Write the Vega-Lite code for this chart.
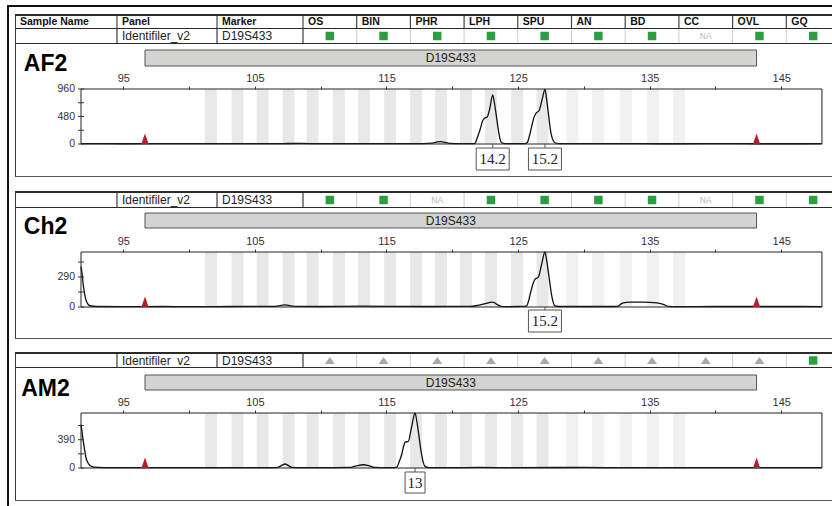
{
"$schema":"https://vega.github.io/schema/vega-lite/v6.json",
"background":"white",
"padding":{"left":7,"top":5,"right":0,"bottom":0},
"autosize":{"type":"pad"},
"config":{"view":{"stroke":null},"font":"Liberation Sans","text":{"font":"Liberation Sans"}},
"datasets":{
"hdr":[{"name":"Sample Name","x0":0},{"name":"Panel","x0":1.899},{"name":"Marker","x0":3.762},{"name":"OS","x0":5.363},{"name":"BIN","x0":6.363},{"name":"PHR","x0":7.363},{"name":"LPH","x0":8.363},{"name":"SPU","x0":9.363},{"name":"AN","x0":10.363},{"name":"BD","x0":11.363},{"name":"CC","x0":12.363},{"name":"OVL","x0":13.363},{"name":"GQ","x0":14.363}],
"info":[{"t":"Identifiler_v2","x0":1.899},{"t":"D19S433","x0":3.762},{"t":"","x0":5.363}],
"stAF2":[{"col":"OS","st":"ok","x0":5.363,"mid":5.863},{"col":"BIN","st":"ok","x0":6.363,"mid":6.863},{"col":"PHR","st":"ok","x0":7.363,"mid":7.863},{"col":"LPH","st":"ok","x0":8.363,"mid":8.863},{"col":"SPU","st":"ok","x0":9.363,"mid":9.863},{"col":"AN","st":"ok","x0":10.363,"mid":10.863},{"col":"BD","st":"ok","x0":11.363,"mid":11.863},{"col":"CC","st":"NA","x0":12.363,"mid":12.863},{"col":"OVL","st":"ok","x0":13.363,"mid":13.863},{"col":"GQ","st":"ok","x0":14.363,"mid":14.863}],
"stCh2":[{"col":"OS","st":"ok","x0":5.363,"mid":5.863},{"col":"BIN","st":"ok","x0":6.363,"mid":6.863},{"col":"PHR","st":"NA","x0":7.363,"mid":7.863},{"col":"LPH","st":"ok","x0":8.363,"mid":8.863},{"col":"SPU","st":"ok","x0":9.363,"mid":9.863},{"col":"AN","st":"ok","x0":10.363,"mid":10.863},{"col":"BD","st":"ok","x0":11.363,"mid":11.863},{"col":"CC","st":"NA","x0":12.363,"mid":12.863},{"col":"OVL","st":"ok","x0":13.363,"mid":13.863},{"col":"GQ","st":"ok","x0":14.363,"mid":14.863}],
"stAM2":[{"col":"OS","st":"warn","x0":5.363,"mid":5.863},{"col":"BIN","st":"warn","x0":6.363,"mid":6.863},{"col":"PHR","st":"warn","x0":7.363,"mid":7.863},{"col":"LPH","st":"warn","x0":8.363,"mid":8.863},{"col":"SPU","st":"warn","x0":9.363,"mid":9.863},{"col":"AN","st":"warn","x0":10.363,"mid":10.863},{"col":"BD","st":"warn","x0":11.363,"mid":11.863},{"col":"CC","st":"warn","x0":12.363,"mid":12.863},{"col":"OVL","st":"warn","x0":13.363,"mid":13.863},{"col":"GQ","st":"ok","x0":14.363,"mid":14.863}],
"mk":[{"marker":"D19S433","start":96.65,"end":143.12}],
"ends":[{"bp":96.65,"rfu":0},{"bp":143.12,"rfu":0}],
"ytAF2":[{"rfu":0,"lab":"0"},{"rfu":240,"lab":""},{"rfu":480,"lab":"480"},{"rfu":720,"lab":""},{"rfu":960,"lab":"960"}],
"ytCh2":[{"rfu":0,"lab":"0"},{"rfu":145,"lab":""},{"rfu":290,"lab":"290"},{"rfu":435,"lab":""}],
"ytAM2":[{"rfu":0,"lab":"0"},{"rfu":195,"lab":""},{"rfu":390,"lab":"390"},{"rfu":585,"lab":""}],
"stripes":[{"lo":101.21,"hi":102.11},{"lo":103.23,"hi":104.13},{"lo":105.13,"hi":106.03},{"lo":107.1,"hi":108.0},{"lo":108.93,"hi":109.83},{"lo":110.94,"hi":111.84},{"lo":112.84,"hi":113.74},{"lo":114.82,"hi":115.72},{"lo":116.79,"hi":117.69},{"lo":118.69,"hi":119.59},{"lo":120.59,"hi":121.49},{"lo":122.49,"hi":123.39},{"lo":124.47,"hi":125.37},{"lo":126.4,"hi":127.3},{"lo":128.68,"hi":129.58},{"lo":130.62,"hi":131.52},{"lo":132.75,"hi":133.65},{"lo":134.8,"hi":135.7},{"lo":136.78,"hi":137.68}],
"alAF2":[{"bp":123.07,"allele":"14.2"},{"bp":127.04,"allele":"15.2"}],
"alCh2":[{"bp":127.04,"allele":"15.2"}],
"alAM2":[{"bp":117.17,"allele":"13"}],
"trAF2":[{"bp":91.786,"rfu":5},{"bp":93,"rfu":6},{"bp":95,"rfu":4},{"bp":97,"rfu":6},{"bp":99,"rfu":5},{"bp":101,"rfu":7},{"bp":103,"rfu":5},{"bp":105,"rfu":6},{"bp":107,"rfu":8},{"bp":108.5,"rfu":10},{"bp":110,"rfu":6},{"bp":112,"rfu":5},{"bp":114,"rfu":7},{"bp":116,"rfu":6},{"bp":117.8,"rfu":8},{"bp":118.4,"rfu":14},{"bp":118.8,"rfu":32},{"bp":119.1,"rfu":42},{"bp":119.45,"rfu":30},{"bp":119.9,"rfu":10},{"bp":120.8,"rfu":6},{"bp":121.5,"rfu":7},{"bp":121.72,"rfu":12},{"bp":121.9,"rfu":110},{"bp":122.1,"rfu":244},{"bp":122.3,"rfu":400},{"bp":122.45,"rfu":448},{"bp":122.65,"rfu":470},{"bp":122.85,"rfu":620},{"bp":123.07,"rfu":855},{"bp":123.2,"rfu":720},{"bp":123.32,"rfu":535},{"bp":123.5,"rfu":244},{"bp":123.62,"rfu":90},{"bp":123.76,"rfu":22},{"bp":124.0,"rfu":8},{"bp":125.0,"rfu":6},{"bp":125.55,"rfu":8},{"bp":125.7,"rfu":25},{"bp":125.86,"rfu":140},{"bp":126.03,"rfu":302},{"bp":126.2,"rfu":460},{"bp":126.36,"rfu":535},{"bp":126.6,"rfu":585},{"bp":126.85,"rfu":800},{"bp":127.04,"rfu":955},{"bp":127.17,"rfu":780},{"bp":127.3,"rfu":535},{"bp":127.5,"rfu":186},{"bp":127.65,"rfu":70},{"bp":127.8,"rfu":22},{"bp":128.1,"rfu":8},{"bp":130,"rfu":5},{"bp":133,"rfu":6},{"bp":136,"rfu":4},{"bp":139,"rfu":6},{"bp":142,"rfu":5},{"bp":145,"rfu":4},{"bp":148.09,"rfu":5}],
"trCh2":[{"bp":91.786,"rfu":390},{"bp":91.85,"rfu":340},{"bp":91.96,"rfu":210},{"bp":92.07,"rfu":120},{"bp":92.17,"rfu":65},{"bp":92.3,"rfu":30},{"bp":92.47,"rfu":12},{"bp":93,"rfu":5},{"bp":95,"rfu":4},{"bp":98,"rfu":5},{"bp":100,"rfu":4},{"bp":103,"rfu":5},{"bp":106.5,"rfu":6},{"bp":107.3,"rfu":20},{"bp":108,"rfu":6},{"bp":110,"rfu":5},{"bp":113,"rfu":8},{"bp":115,"rfu":6},{"bp":118,"rfu":5},{"bp":120,"rfu":6},{"bp":121.35,"rfu":6},{"bp":121.8,"rfu":12},{"bp":122.18,"rfu":22},{"bp":122.6,"rfu":35},{"bp":122.99,"rfu":48},{"bp":123.2,"rfu":42},{"bp":123.4,"rfu":25},{"bp":123.65,"rfu":8},{"bp":123.88,"rfu":4},{"bp":125,"rfu":5},{"bp":125.5,"rfu":6},{"bp":125.65,"rfu":10},{"bp":125.8,"rfu":60},{"bp":125.96,"rfu":145},{"bp":126.12,"rfu":220},{"bp":126.28,"rfu":268},{"bp":126.54,"rfu":290},{"bp":126.8,"rfu":420},{"bp":127.04,"rfu":532},{"bp":127.17,"rfu":450},{"bp":127.3,"rfu":338},{"bp":127.55,"rfu":113},{"bp":127.68,"rfu":40},{"bp":127.8,"rfu":10},{"bp":128.1,"rfu":5},{"bp":130,"rfu":5},{"bp":132.3,"rfu":5},{"bp":132.61,"rfu":8},{"bp":132.8,"rfu":28},{"bp":132.99,"rfu":40},{"bp":133.5,"rfu":48},{"bp":134.51,"rfu":48},{"bp":135.53,"rfu":40},{"bp":136.03,"rfu":25},{"bp":136.41,"rfu":6},{"bp":137,"rfu":4},{"bp":140,"rfu":5},{"bp":143,"rfu":5},{"bp":145,"rfu":5},{"bp":148.09,"rfu":4}],
"trAM2":[{"bp":91.786,"rfu":597},{"bp":91.85,"rfu":520},{"bp":91.96,"rfu":366},{"bp":92.07,"rfu":240},{"bp":92.17,"rfu":138},{"bp":92.3,"rfu":75},{"bp":92.47,"rfu":36},{"bp":92.8,"rfu":12},{"bp":93.5,"rfu":5},{"bp":95,"rfu":4},{"bp":98,"rfu":5},{"bp":100,"rfu":4},{"bp":103,"rfu":5},{"bp":106.2,"rfu":6},{"bp":106.75,"rfu":10},{"bp":107.29,"rfu":55},{"bp":107.8,"rfu":10},{"bp":108.5,"rfu":5},{"bp":110,"rfu":4},{"bp":112.2,"rfu":8},{"bp":112.7,"rfu":30},{"bp":113.24,"rfu":45},{"bp":113.7,"rfu":30},{"bp":114.1,"rfu":8},{"bp":115,"rfu":5},{"bp":115.6,"rfu":6},{"bp":115.78,"rfu":12},{"bp":115.95,"rfu":80},{"bp":116.15,"rfu":183},{"bp":116.3,"rfu":300},{"bp":116.41,"rfu":358},{"bp":116.66,"rfu":366},{"bp":116.9,"rfu":560},{"bp":117.17,"rfu":758},{"bp":117.3,"rfu":650},{"bp":117.42,"rfu":504},{"bp":117.67,"rfu":183},{"bp":117.8,"rfu":70},{"bp":117.93,"rfu":22},{"bp":118.2,"rfu":6},{"bp":120,"rfu":5},{"bp":122,"rfu":8},{"bp":125,"rfu":5},{"bp":128,"rfu":7},{"bp":130,"rfu":8},{"bp":133,"rfu":5},{"bp":136,"rfu":5},{"bp":139,"rfu":6},{"bp":142,"rfu":5},{"bp":145,"rfu":4},{"bp":148.09,"rfu":5}]
},
"spacing":0,"bounds":"flush",
"vconcat":[
{"width":825,"height":2,"view":{"fill":"#111111"},"data":{"values":[]},"mark":"point"},
{"spacing":6,"bounds":"flush","hconcat":[
{"width":2,"height":499,"view":{"fill":"#111111"},"data":{"values":[]},"mark":"point"},
{"spacing":0,"bounds":"flush","hconcat":[
{"spacing":0,"bounds":"flush","vconcat":[
{"width":1,"height":7,"data":{"values":[]},"mark":"point"},
{"width":1,"height":163,"view":{"fill":"#3a3a3a"},"data":{"values":[]},"mark":"point"},
{"width":1,"height":14,"data":{"values":[]},"mark":"point"},
{"width":1,"height":148,"view":{"fill":"#3a3a3a"},"data":{"values":[]},"mark":"point"},
{"width":1,"height":13,"data":{"values":[]},"mark":"point"},
{"width":1,"height":149,"view":{"fill":"#3a3a3a"},"data":{"values":[]},"mark":"point"}
]},
{"spacing":0,"bounds":"flush","vconcat":[
{"width":61,"height":43,"data":{"values":[]},"mark":"point"},
{"width":61,"height":28,"data":{"values":[{"s":"AF2"}]},"mark":{"type":"text","baseline":"middle","fontSize":23,"fontWeight":"bold","color":"#000"},"encoding":{"text":{"field":"s"}}},
{"width":61,"height":135,"data":{"values":[]},"mark":"point"},
{"width":61,"height":27,"data":{"values":[{"s":"Ch2"}]},"mark":{"type":"text","baseline":"middle","fontSize":23,"fontWeight":"bold","color":"#000"},"encoding":{"text":{"field":"s"}}},
{"width":61,"height":135,"data":{"values":[]},"mark":"point"},
{"width":61,"height":27,"data":{"values":[{"s":"AM2"}]},"mark":{"type":"text","baseline":"middle","fontSize":23,"fontWeight":"bold","color":"#000"},"encoding":{"text":{"field":"s"}}}
]},
{"spacing":0,"bounds":"flush","vconcat":[
{"width":817,"height":7,"data":{"values":[]},"mark":"point"},
{"width":817,"height":2,"view":{"fill":"#2a2a2a"},"data":{"values":[]},"mark":"point"},
{"width":817,"height":12,"data":{"name":"hdr"},"layer":[
{"transform":[{"filter":"datum.x0 > 0"}],"mark":{"type":"rule","color":"#444","strokeWidth":1.2},"encoding":{"x":{"field":"x0","type":"quantitative","scale":{"domain":[0,15.214],"nice":false,"zero":false},"axis":null}}},
{"mark":{"type":"text","align":"left","baseline":"middle","dx":5,"fontSize":10.5,"fontWeight":"bold","color":"#111"},"encoding":{"x":{"field":"x0","type":"quantitative","scale":{"domain":[0,15.214],"nice":false,"zero":false},"axis":null},"text":{"field":"name"}}}
]},
{"width":817,"height":1,"view":{"fill":"#2a2a2a"},"data":{"values":[]},"mark":"point"},
{"width":817,"height":14,"layer":[
{"data":{"name":"info"},"mark":{"type":"rule","color":"#3a3a3a","strokeWidth":1.2},"encoding":{"x":{"field":"x0","type":"quantitative","scale":{"domain":[0,15.214],"nice":false,"zero":false},"axis":null}}},
{"data":{"name":"info"},"mark":{"type":"text","align":"left","baseline":"middle","dx":5,"fontSize":12,"color":"#222"},"encoding":{"x":{"field":"x0","type":"quantitative","scale":{"domain":[0,15.214],"nice":false,"zero":false},"axis":null},"text":{"field":"t"}}},
{"data":{"name":"stAF2"},"transform":[{"filter":"datum.col != 'OS'"}],"mark":{"type":"rule","color":"#cccccc"},"encoding":{"x":{"field":"x0","type":"quantitative","scale":{"domain":[0,15.214],"nice":false,"zero":false},"axis":null}}},
{"data":{"name":"stAF2"},"transform":[{"filter":"datum.st == 'ok'"}],"mark":{"type":"point","shape":"square","size":72,"filled":true,"color":"#2b9f40","opacity":1},"encoding":{"x":{"field":"mid","type":"quantitative","scale":{"domain":[0,15.214],"nice":false,"zero":false},"axis":null}}},
{"data":{"name":"stAF2"},"transform":[{"filter":"datum.st == 'NA'"}],"mark":{"type":"text","fontSize":8.5,"color":"#b3b7c3","baseline":"middle"},"encoding":{"x":{"field":"mid","type":"quantitative","scale":{"domain":[0,15.214],"nice":false,"zero":false},"axis":null},"text":{"field":"st"}}}
]},
{"width":817,"height":1,"view":{"fill":"#2a2a2a"},"data":{"values":[]},"mark":"point"},
{"width":817,"height":6,"data":{"values":[]},"mark":"point"},
{"width":817,"height":16,"data":{"name":"mk"},"layer":[
{"mark":{"type":"rect","fill":"#d3d3d1","stroke":"#555","strokeWidth":1},"encoding":{"x":{"field":"start","type":"quantitative","scale":{"domain":[86.7705,148.853],"nice":false,"zero":false},"axis":null},"x2":{"field":"end"}}},
{"transform":[{"fold":["start","end"],"as":["k","v"]}],"mark":{"type":"text","fontSize":12,"color":"#222","baseline":"middle"},"encoding":{"x":{"aggregate":"mean","field":"v","type":"quantitative","scale":{"domain":[86.7705,148.853],"nice":false,"zero":false},"axis":null},"text":{"field":"marker"}}}
]},
{"width":817,"height":23,"data":{"values":[]},"mark":"point"},
{"width":817,"height":55,"layer":[
{"data":{"name":"stripes"},"transform":[{"filter":"datum.lo < 128"}],"mark":{"type":"rect","color":"#e8e8e8"},"encoding":{"x":{"field":"lo","type":"quantitative","scale":{"domain":[86.7705,148.853],"nice":false,"zero":false},"title":null,"axis":{"orient":"top","values":[95,100,105,110,115,120,125,130,135,140,145],"labelExpr":"datum.value % 10 == 5 ? datum.label : ''","domain":false,"tickColor":"#333","tickSize":3,"labelPadding":3,"labelFontSize":11,"labelColor":"#333","labelFont":"Liberation Sans","grid":false,"title":null,"labelOverlap":false,"labelFlush":false,"zindex":1}},"x2":{"field":"hi"}}},
{"data":{"name":"stripes"},"transform":[{"filter":"datum.lo >= 128"}],"mark":{"type":"rect","color":"#f1f1f1"},"encoding":{"x":{"field":"lo","type":"quantitative","scale":{"domain":[86.7705,148.853],"nice":false,"zero":false},"title":null},"x2":{"field":"hi"}}},
{"data":{"name":"trAF2"},"mark":{"type":"line","color":"#111","strokeWidth":1.3,"interpolate":"monotone"},"encoding":{"x":{"field":"bp","type":"quantitative","scale":{"domain":[86.7705,148.853],"nice":false,"zero":false},"title":null},"y":{"field":"rfu","type":"quantitative","scale":{"domain":[0,960],"nice":false},"axis":null}}},
{"data":{"values":[{}]},"mark":{"type":"rect","filled":false,"color":"#222","strokeWidth":1},"encoding":{"x":{"datum":91.786,"type":"quantitative","scale":{"domain":[86.7705,148.853],"nice":false,"zero":false},"title":null},"x2":{"datum":148.09},"y":{"datum":0,"type":"quantitative","scale":{"domain":[0,960],"nice":false},"axis":null},"y2":{"datum":960}}},
{"data":{"name":"ytAF2"},"mark":{"type":"tick","orient":"horizontal","size":6,"thickness":1,"color":"#333","opacity":1},"encoding":{"x":{"datum":91.786,"type":"quantitative","scale":{"domain":[86.7705,148.853],"nice":false,"zero":false},"title":null},"y":{"field":"rfu","type":"quantitative","scale":{"domain":[0,960],"nice":false},"axis":null}}},
{"data":{"name":"ytAF2"},"mark":{"type":"text","align":"right","baseline":"middle","dx":-6,"fontSize":10.5,"color":"#333"},"encoding":{"x":{"datum":91.786,"type":"quantitative","scale":{"domain":[86.7705,148.853],"nice":false,"zero":false},"title":null},"y":{"field":"rfu","type":"quantitative","scale":{"domain":[0,960],"nice":false},"axis":null},"text":{"field":"lab"}}},
{"data":{"name":"ends"},"mark":{"type":"point","shape":"M-1.2,0L1.2,0L0,-3.5Z","size":36,"filled":true,"color":"#b3202a","opacity":1},"encoding":{"x":{"field":"bp","type":"quantitative","scale":{"domain":[86.7705,148.853],"nice":false,"zero":false},"title":null},"y":{"field":"rfu","type":"quantitative","scale":{"domain":[0,960],"nice":false},"axis":null}}}
]},
{"width":817,"height":4,"data":{"name":"alAF2"},"mark":{"type":"rule","color":"#555"},"encoding":{"x":{"field":"bp","type":"quantitative","scale":{"domain":[86.7705,148.853],"nice":false,"zero":false},"axis":null}}},
{"width":817,"height":22,"data":{"name":"alAF2"},"layer":[
{"mark":{"type":"point","shape":"M-1.5,-1H1.5V1H-1.5Z","size":484,"filled":true,"fill":"white","stroke":"#555","strokeWidth":1,"opacity":1},"encoding":{"x":{"field":"bp","type":"quantitative","scale":{"domain":[86.7705,148.853],"nice":false,"zero":false},"axis":null}}},
{"mark":{"type":"text","font":"Liberation Serif","fontSize":15,"color":"#222","baseline":"middle"},"encoding":{"x":{"field":"bp","type":"quantitative","scale":{"domain":[86.7705,148.853],"nice":false,"zero":false},"axis":null},"text":{"field":"allele"}}}
]},
{"width":817,"height":6,"data":{"values":[]},"mark":"point"},
{"width":817,"height":1,"view":{"fill":"#555555"},"data":{"values":[]},"mark":"point"},
{"width":817,"height":14,"data":{"values":[]},"mark":"point"},
{"width":817,"height":2,"view":{"fill":"#2a2a2a"},"data":{"values":[]},"mark":"point"},
{"width":817,"height":14,"layer":[
{"data":{"name":"info"},"mark":{"type":"rule","color":"#3a3a3a","strokeWidth":1.2},"encoding":{"x":{"field":"x0","type":"quantitative","scale":{"domain":[0,15.214],"nice":false,"zero":false},"axis":null}}},
{"data":{"name":"info"},"mark":{"type":"text","align":"left","baseline":"middle","dx":5,"fontSize":12,"color":"#222"},"encoding":{"x":{"field":"x0","type":"quantitative","scale":{"domain":[0,15.214],"nice":false,"zero":false},"axis":null},"text":{"field":"t"}}},
{"data":{"name":"stCh2"},"transform":[{"filter":"datum.col != 'OS'"}],"mark":{"type":"rule","color":"#cccccc"},"encoding":{"x":{"field":"x0","type":"quantitative","scale":{"domain":[0,15.214],"nice":false,"zero":false},"axis":null}}},
{"data":{"name":"stCh2"},"transform":[{"filter":"datum.st == 'ok'"}],"mark":{"type":"point","shape":"square","size":72,"filled":true,"color":"#2b9f40","opacity":1},"encoding":{"x":{"field":"mid","type":"quantitative","scale":{"domain":[0,15.214],"nice":false,"zero":false},"axis":null}}},
{"data":{"name":"stCh2"},"transform":[{"filter":"datum.st == 'NA'"}],"mark":{"type":"text","fontSize":8.5,"color":"#b3b7c3","baseline":"middle"},"encoding":{"x":{"field":"mid","type":"quantitative","scale":{"domain":[0,15.214],"nice":false,"zero":false},"axis":null},"text":{"field":"st"}}}
]},
{"width":817,"height":1,"view":{"fill":"#2a2a2a"},"data":{"values":[]},"mark":"point"},
{"width":817,"height":5,"data":{"values":[]},"mark":"point"},
{"width":817,"height":15,"data":{"name":"mk"},"layer":[
{"mark":{"type":"rect","fill":"#d3d3d1","stroke":"#555","strokeWidth":1},"encoding":{"x":{"field":"start","type":"quantitative","scale":{"domain":[86.7705,148.853],"nice":false,"zero":false},"axis":null},"x2":{"field":"end"}}},
{"transform":[{"fold":["start","end"],"as":["k","v"]}],"mark":{"type":"text","fontSize":12,"color":"#222","baseline":"middle"},"encoding":{"x":{"aggregate":"mean","field":"v","type":"quantitative","scale":{"domain":[86.7705,148.853],"nice":false,"zero":false},"axis":null},"text":{"field":"marker"}}}
]},
{"width":817,"height":24,"data":{"values":[]},"mark":"point"},
{"width":817,"height":55,"layer":[
{"data":{"name":"stripes"},"transform":[{"filter":"datum.lo < 128"}],"mark":{"type":"rect","color":"#e8e8e8"},"encoding":{"x":{"field":"lo","type":"quantitative","scale":{"domain":[86.7705,148.853],"nice":false,"zero":false},"title":null,"axis":{"orient":"top","values":[95,100,105,110,115,120,125,130,135,140,145],"labelExpr":"datum.value % 10 == 5 ? datum.label : ''","domain":false,"tickColor":"#333","tickSize":3,"labelPadding":3,"labelFontSize":11,"labelColor":"#333","labelFont":"Liberation Sans","grid":false,"title":null,"labelOverlap":false,"labelFlush":false,"zindex":1}},"x2":{"field":"hi"}}},
{"data":{"name":"stripes"},"transform":[{"filter":"datum.lo >= 128"}],"mark":{"type":"rect","color":"#f1f1f1"},"encoding":{"x":{"field":"lo","type":"quantitative","scale":{"domain":[86.7705,148.853],"nice":false,"zero":false},"title":null},"x2":{"field":"hi"}}},
{"data":{"name":"trCh2"},"mark":{"type":"line","color":"#111","strokeWidth":1.3,"interpolate":"monotone"},"encoding":{"x":{"field":"bp","type":"quantitative","scale":{"domain":[86.7705,148.853],"nice":false,"zero":false},"title":null},"y":{"field":"rfu","type":"quantitative","scale":{"domain":[0,532],"nice":false},"axis":null}}},
{"data":{"values":[{}]},"mark":{"type":"rect","filled":false,"color":"#222","strokeWidth":1},"encoding":{"x":{"datum":91.786,"type":"quantitative","scale":{"domain":[86.7705,148.853],"nice":false,"zero":false},"title":null},"x2":{"datum":148.09},"y":{"datum":0,"type":"quantitative","scale":{"domain":[0,532],"nice":false},"axis":null},"y2":{"datum":532}}},
{"data":{"name":"ytCh2"},"mark":{"type":"tick","orient":"horizontal","size":6,"thickness":1,"color":"#333","opacity":1},"encoding":{"x":{"datum":91.786,"type":"quantitative","scale":{"domain":[86.7705,148.853],"nice":false,"zero":false},"title":null},"y":{"field":"rfu","type":"quantitative","scale":{"domain":[0,532],"nice":false},"axis":null}}},
{"data":{"name":"ytCh2"},"mark":{"type":"text","align":"right","baseline":"middle","dx":-6,"fontSize":10.5,"color":"#333"},"encoding":{"x":{"datum":91.786,"type":"quantitative","scale":{"domain":[86.7705,148.853],"nice":false,"zero":false},"title":null},"y":{"field":"rfu","type":"quantitative","scale":{"domain":[0,532],"nice":false},"axis":null},"text":{"field":"lab"}}},
{"data":{"name":"ends"},"mark":{"type":"point","shape":"M-1.2,0L1.2,0L0,-3.5Z","size":36,"filled":true,"color":"#b3202a","opacity":1},"encoding":{"x":{"field":"bp","type":"quantitative","scale":{"domain":[86.7705,148.853],"nice":false,"zero":false},"title":null},"y":{"field":"rfu","type":"quantitative","scale":{"domain":[0,532],"nice":false},"axis":null}}}
]},
{"width":817,"height":3,"data":{"name":"alCh2"},"mark":{"type":"rule","color":"#555"},"encoding":{"x":{"field":"bp","type":"quantitative","scale":{"domain":[86.7705,148.853],"nice":false,"zero":false},"axis":null}}},
{"width":817,"height":22,"data":{"name":"alCh2"},"layer":[
{"mark":{"type":"point","shape":"M-1.5,-1H1.5V1H-1.5Z","size":484,"filled":true,"fill":"white","stroke":"#555","strokeWidth":1,"opacity":1},"encoding":{"x":{"field":"bp","type":"quantitative","scale":{"domain":[86.7705,148.853],"nice":false,"zero":false},"axis":null}}},
{"mark":{"type":"text","font":"Liberation Serif","fontSize":15,"color":"#222","baseline":"middle"},"encoding":{"x":{"field":"bp","type":"quantitative","scale":{"domain":[86.7705,148.853],"nice":false,"zero":false},"axis":null},"text":{"field":"allele"}}}
]},
{"width":817,"height":6,"data":{"values":[]},"mark":"point"},
{"width":817,"height":1,"view":{"fill":"#555555"},"data":{"values":[]},"mark":"point"},
{"width":817,"height":13,"data":{"values":[]},"mark":"point"},
{"width":817,"height":2,"view":{"fill":"#2a2a2a"},"data":{"values":[]},"mark":"point"},
{"width":817,"height":13,"layer":[
{"data":{"name":"info"},"mark":{"type":"rule","color":"#3a3a3a","strokeWidth":1.2},"encoding":{"x":{"field":"x0","type":"quantitative","scale":{"domain":[0,15.214],"nice":false,"zero":false},"axis":null}}},
{"data":{"name":"info"},"mark":{"type":"text","align":"left","baseline":"middle","dx":5,"fontSize":12,"color":"#222"},"encoding":{"x":{"field":"x0","type":"quantitative","scale":{"domain":[0,15.214],"nice":false,"zero":false},"axis":null},"text":{"field":"t"}}},
{"data":{"name":"stAM2"},"transform":[{"filter":"datum.col != 'OS'"}],"mark":{"type":"rule","color":"#cccccc"},"encoding":{"x":{"field":"x0","type":"quantitative","scale":{"domain":[0,15.214],"nice":false,"zero":false},"axis":null}}},
{"data":{"name":"stAM2"},"transform":[{"filter":"datum.st == 'ok'"}],"mark":{"type":"point","shape":"square","size":72,"filled":true,"color":"#2b9f40","opacity":1},"encoding":{"x":{"field":"mid","type":"quantitative","scale":{"domain":[0,15.214],"nice":false,"zero":false},"axis":null}}},
{"data":{"name":"stAM2"},"transform":[{"filter":"datum.st == 'warn'"}],"mark":{"type":"point","shape":"M-2,1.4L2,1.4L0,-1.4Z","size":25,"filled":true,"color":"#a8a8a8","opacity":1},"encoding":{"x":{"field":"mid","type":"quantitative","scale":{"domain":[0,15.214],"nice":false,"zero":false},"axis":null}}}
]},
{"width":817,"height":1,"view":{"fill":"#2a2a2a"},"data":{"values":[]},"mark":"point"},
{"width":817,"height":7,"data":{"values":[]},"mark":"point"},
{"width":817,"height":15,"data":{"name":"mk"},"layer":[
{"mark":{"type":"rect","fill":"#d3d3d1","stroke":"#555","strokeWidth":1},"encoding":{"x":{"field":"start","type":"quantitative","scale":{"domain":[86.7705,148.853],"nice":false,"zero":false},"axis":null},"x2":{"field":"end"}}},
{"transform":[{"fold":["start","end"],"as":["k","v"]}],"mark":{"type":"text","fontSize":12,"color":"#222","baseline":"middle"},"encoding":{"x":{"aggregate":"mean","field":"v","type":"quantitative","scale":{"domain":[86.7705,148.853],"nice":false,"zero":false},"axis":null},"text":{"field":"marker"}}}
]},
{"width":817,"height":23,"data":{"values":[]},"mark":"point"},
{"width":817,"height":55,"layer":[
{"data":{"name":"stripes"},"transform":[{"filter":"datum.lo < 128"}],"mark":{"type":"rect","color":"#e8e8e8"},"encoding":{"x":{"field":"lo","type":"quantitative","scale":{"domain":[86.7705,148.853],"nice":false,"zero":false},"title":null,"axis":{"orient":"top","values":[95,100,105,110,115,120,125,130,135,140,145],"labelExpr":"datum.value % 10 == 5 ? datum.label : ''","domain":false,"tickColor":"#333","tickSize":3,"labelPadding":3,"labelFontSize":11,"labelColor":"#333","labelFont":"Liberation Sans","grid":false,"title":null,"labelOverlap":false,"labelFlush":false,"zindex":1}},"x2":{"field":"hi"}}},
{"data":{"name":"stripes"},"transform":[{"filter":"datum.lo >= 128"}],"mark":{"type":"rect","color":"#f1f1f1"},"encoding":{"x":{"field":"lo","type":"quantitative","scale":{"domain":[86.7705,148.853],"nice":false,"zero":false},"title":null},"x2":{"field":"hi"}}},
{"data":{"name":"trAM2"},"mark":{"type":"line","color":"#111","strokeWidth":1.3,"interpolate":"monotone"},"encoding":{"x":{"field":"bp","type":"quantitative","scale":{"domain":[86.7705,148.853],"nice":false,"zero":false},"title":null},"y":{"field":"rfu","type":"quantitative","scale":{"domain":[0,758],"nice":false},"axis":null}}},
{"data":{"values":[{}]},"mark":{"type":"rect","filled":false,"color":"#222","strokeWidth":1},"encoding":{"x":{"datum":91.786,"type":"quantitative","scale":{"domain":[86.7705,148.853],"nice":false,"zero":false},"title":null},"x2":{"datum":148.09},"y":{"datum":0,"type":"quantitative","scale":{"domain":[0,758],"nice":false},"axis":null},"y2":{"datum":758}}},
{"data":{"name":"ytAM2"},"mark":{"type":"tick","orient":"horizontal","size":6,"thickness":1,"color":"#333","opacity":1},"encoding":{"x":{"datum":91.786,"type":"quantitative","scale":{"domain":[86.7705,148.853],"nice":false,"zero":false},"title":null},"y":{"field":"rfu","type":"quantitative","scale":{"domain":[0,758],"nice":false},"axis":null}}},
{"data":{"name":"ytAM2"},"mark":{"type":"text","align":"right","baseline":"middle","dx":-6,"fontSize":10.5,"color":"#333"},"encoding":{"x":{"datum":91.786,"type":"quantitative","scale":{"domain":[86.7705,148.853],"nice":false,"zero":false},"title":null},"y":{"field":"rfu","type":"quantitative","scale":{"domain":[0,758],"nice":false},"axis":null},"text":{"field":"lab"}}},
{"data":{"name":"ends"},"mark":{"type":"point","shape":"M-1.2,0L1.2,0L0,-3.5Z","size":36,"filled":true,"color":"#b3202a","opacity":1},"encoding":{"x":{"field":"bp","type":"quantitative","scale":{"domain":[86.7705,148.853],"nice":false,"zero":false},"title":null},"y":{"field":"rfu","type":"quantitative","scale":{"domain":[0,758],"nice":false},"axis":null}}}
]},
{"width":817,"height":4,"data":{"name":"alAM2"},"mark":{"type":"rule","color":"#555"},"encoding":{"x":{"field":"bp","type":"quantitative","scale":{"domain":[86.7705,148.853],"nice":false,"zero":false},"axis":null}}},
{"width":817,"height":21,"data":{"name":"alAM2"},"layer":[
{"mark":{"type":"point","shape":"M-0.95,-1H0.95V1H-0.95Z","size":441,"filled":true,"fill":"white","stroke":"#555","strokeWidth":1,"opacity":1},"encoding":{"x":{"field":"bp","type":"quantitative","scale":{"domain":[86.7705,148.853],"nice":false,"zero":false},"axis":null}}},
{"mark":{"type":"text","font":"Liberation Serif","fontSize":15,"color":"#222","baseline":"middle"},"encoding":{"x":{"field":"bp","type":"quantitative","scale":{"domain":[86.7705,148.853],"nice":false,"zero":false},"axis":null},"text":{"field":"allele"}}}
]},
{"width":817,"height":7,"data":{"values":[]},"mark":"point"},
{"width":817,"height":1,"view":{"fill":"#555555"},"data":{"values":[]},"mark":"point"}
]}
]}
]}
]
}
